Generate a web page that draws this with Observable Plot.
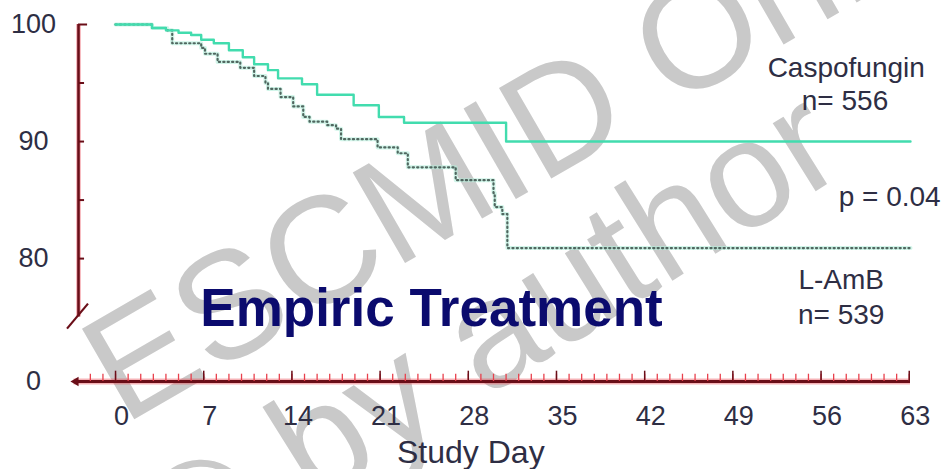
<!DOCTYPE html>
<html><head><meta charset="utf-8">
<script src="https://cdn.jsdelivr.net/npm/d3@7"></script>
<script src="https://cdn.jsdelivr.net/npm/@observablehq/plot@0.6"></script>
<style>body{margin:0;background:#fff;} svg{font-family:"Liberation Sans",Arial,sans-serif;}</style>
</head><body><div id="chart"></div>
<script>
// Kaplan-Meier style curves (study day, % event-free)
const caspoDay  = [0, 2.9, 4.0, 5.0, 6.0, 6.8, 7.8, 9.0, 10.1, 11.0, 12.1, 12.9, 14.8, 16.0, 18.9, 20.9, 22.9, 31.0, 63.1];
const caspoSurv = [100, 99.7, 99.5, 99.3, 99.1, 98.7, 98.4, 97.8, 97.2, 96.6, 96.1, 95.4, 94.9, 94.0, 93.1, 92.1, 91.6, 90.0, 90.0];
const lambDay   = [0, 2.9, 4.1, 4.5, 6.8, 7.1, 8.1, 9.9, 11.0, 11.9, 12.1, 13.1, 14.1, 14.9, 15.4, 16.8, 17.5, 17.9, 20.8, 22.4, 23.2, 27.0, 30.0, 30.1, 30.7, 31.1, 63.1];
const lambSurv  = [100, 99.7, 99.5, 98.4, 98.0, 97.5, 96.8, 96.3, 95.6, 95.0, 94.5, 93.8, 93.0, 92.1, 91.7, 91.4, 91.1, 90.2, 89.5, 89.0, 87.8, 86.7, 85.6, 84.4, 83.8, 80.9, 80.9];

const xTickDays   = [0, 7, 14, 21, 28, 35, 42, 49, 56, 63];
const xTickLabels = ["0", "7", "14", "21", "28", "35", "42", "49", "56", "63"];
const yTickVals   = [100, 95, 90, 85, 80];
const yTickLabelVals = [100, 90, 80, 0];
const yTickLabels = ["100", "90", "80", "0"];
const minorDays = d3.range(-2, 64);

const caspo = caspoDay.map((d, i) => ({day: d, surv: caspoSurv[i]}));
const lamb  = lambDay.map((d, i) => ({day: d, surv: lambSurv[i]}));

const AX = -2.94;              // y-axis position (study day)
const BREAK = 75, LOW = 69.5;  // broken y axis: 0..75 squeezed into LOW..75
const brk = v => v >= BREAK ? v : LOW + v * (BREAK - LOW) / BREAK;
const maroon = "#6a0e18", red = "#e8404c", ink = "#2e2e44", wm = "#c9c9c9";

const plot = Plot.plot({
  width: 945, height: 469, margin: 0,
  style: {fontFamily: "'Liberation Sans', Arial, sans-serif", background: "white"},
  x: {domain: [AX, 63.1], range: [78, 910], axis: null},
  y: {transform: brk, domain: [LOW, 100], range: [381, 24], axis: null},
  marks: [
    // watermark
    Plot.text(["ESCMID Online Lecture Library"], {frameAnchor: "top-left", dx: 123, dy: 425, rotate: -30, textAnchor: "start", lineAnchor: "bottom", fontSize: 152, fill: wm}),
    Plot.text(["© by author"], {frameAnchor: "top-left", dx: 181, dy: 587, rotate: -32, textAnchor: "start", lineAnchor: "bottom", fontSize: 152, fill: wm}),
    // y axis
    Plot.ruleX([AX], {y1: BREAK, y2: 100, stroke: red, strokeWidth: 5, strokeOpacity: 0.35}),
    Plot.ruleX([AX], {y1: BREAK, y2: 100, stroke: maroon, strokeWidth: 2.6}),
    Plot.ruleY(yTickVals, {y: d => d, x1: AX, x2: d => d === 100 ? -2.22 : -2.46, stroke: maroon, strokeWidth: 2}),
    // x axis
    Plot.ruleY([0], {x1: -3.3, x2: 63.1, stroke: red, strokeWidth: 6, strokeOpacity: 0.4}),
    Plot.ruleY([0], {x1: -3.3, x2: 63.1, stroke: maroon, strokeWidth: 3.2}),
    Plot.ruleX(minorDays, {x: d => d, y1: 0, y2: 8.5, stroke: red, strokeWidth: 1.3}),
    Plot.ruleX(xTickDays, {x: d => d, y1: 0, y2: 12, stroke: maroon, strokeWidth: 1.5}),
    Plot.dot([0], {x: -3.15, y: 0, symbol: "triangle", r: 3.5, rotate: -90, fill: maroon, stroke: null}),
    // curves
    Plot.line(lamb, {x: "day", y: "surv", curve: "step-after", stroke: "#b3eedb", strokeWidth: 4, strokeOpacity: 0.6}),
    Plot.line(lamb, {x: "day", y: "surv", curve: "step-after", stroke: "#3a4d48", strokeWidth: 2.2, strokeOpacity: 0.85, strokeDasharray: "1.2 3.2"}),
    Plot.line(caspo, {x: "day", y: "surv", curve: "step-after", stroke: "#42dcae", strokeWidth: 2.4}),
    // tick labels
    Plot.text(yTickLabelVals, {x: AX, y: d => d, text: (d, i) => yTickLabels[i], dx: -45, fontSize: 27, fill: ink}),
    Plot.text(xTickDays, {x: d => d, y: 0, text: (d, i) => xTickLabels[i], dx: 6, dy: 35, fontSize: 27, fill: ink}),
    Plot.text(["Study Day"], {x: 28.2, y: 0, dy: 71, fontSize: 32, fill: ink}),
    // annotations
    Plot.text(["Caspofungin"], {x: 58.0, y: 96.24, fontSize: 28, fill: ink}),
    Plot.text(["n= 556"], {x: 57.9, y: 93.42, fontSize: 28, fill: ink}),
    Plot.text(["p = 0.04"], {x: 57.4, y: 85.3, textAnchor: "start", fontSize: 28, fill: ink}),
    Plot.text(["L-AmB"], {x: 57.6, y: 78.2, fontSize: 28, fill: ink}),
    Plot.text(["n= 539"], {x: 57.6, y: 75.2, fontSize: 28, fill: ink}),
    Plot.text(["Empiric Treatment"], {x: 25.08, y: 75.7, fontSize: 53, fontWeight: "bold", fill: "#0b0b6e"})
  ]
});
document.getElementById("chart").append(plot);

// axis-break slashes, anchored on the scales
const sx = plot.scale("x"), sy = plot.scale("y");
const svg = d3.select(plot);
const ax = sx.apply(AX);
const breaks = [[sy.apply(BREAK), -11, 12, 10, -13], [sy.apply(0), -11, 6, 10, -21]];
for (const [yy, x1, y1, x2, y2] of breaks) {
  svg.append("line").attr("x1", ax + x1).attr("y1", yy + y1).attr("x2", ax + x2).attr("y2", yy + y2)
    .attr("stroke", maroon).attr("stroke-width", 2.2);
}
</script></body></html>
